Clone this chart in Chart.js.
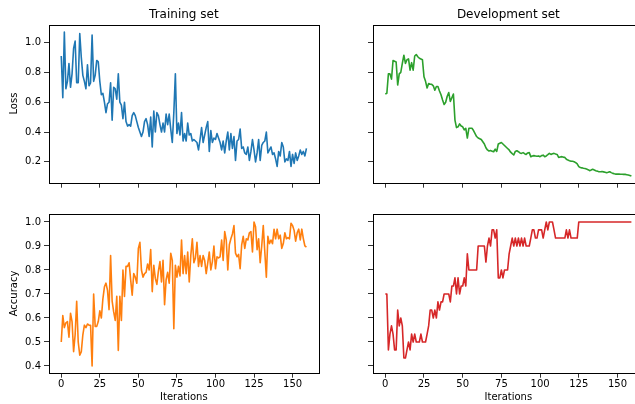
<!DOCTYPE html>
<html>
<head>
<meta charset="utf-8">
<script src="https://cdn.jsdelivr.net/npm/chart.js@4"></script>
<style>
  html, body { margin: 0; padding: 0; background: #fff; overflow: hidden; }
  body { width: 635px; height: 404px; position: relative; }
  .panel { position: absolute; }
</style>
</head>
<body>
<div class="panel" style="left:0;top:0"><canvas id="train-loss" width="325" height="190"></canvas></div>
<div class="panel" style="left:324px;top:0"><canvas id="dev-loss" width="326" height="190"></canvas></div>
<div class="panel" style="left:0;top:190px"><canvas id="train-acc" width="325" height="214"></canvas></div>
<div class="panel" style="left:324px;top:190px"><canvas id="dev-acc" width="326" height="214"></canvas></div>
<script>
// values, one per iteration
const trainLoss = [
  0.91,0.63,1.07,0.69,0.74,0.86,0.70,0.79,0.96,1.01,
  0.73,0.73,1.06,0.90,0.78,0.74,0.69,0.85,0.71,0.73,
  1.05,0.74,0.78,0.88,0.87,0.74,0.65,0.66,0.60,0.53,
  0.59,0.60,0.73,0.48,0.70,0.69,0.62,0.79,0.60,0.58,
  0.49,0.60,0.47,0.44,0.45,0.44,0.51,0.53,0.51,0.47,
  0.43,0.40,0.37,0.40,0.47,0.49,0.45,0.37,0.50,0.30,
  0.54,0.40,0.53,0.51,0.45,0.40,0.46,0.40,0.52,0.45,
  0.52,0.42,0.33,0.53,0.79,0.39,0.46,0.38,0.53,0.34,
  0.39,0.34,0.46,0.38,0.39,0.34,0.35,0.34,0.33,0.28,
  0.35,0.43,0.33,0.38,0.43,0.47,0.27,0.41,0.33,0.36,
  0.35,0.39,0.36,0.33,0.28,0.34,0.26,0.34,0.40,0.28,
  0.39,0.29,0.37,0.21,0.34,0.35,0.42,0.29,0.30,0.26,
  0.25,0.30,0.21,0.27,0.35,0.28,0.20,0.26,0.35,0.21,
  0.31,0.33,0.34,0.40,0.26,0.28,0.30,0.25,0.26,0.22,
  0.17,0.27,0.24,0.33,0.30,0.20,0.22,0.21,0.27,0.17,
  0.25,0.19,0.26,0.21,0.24,0.28,0.25,0.27,0.24,0.29
];
const devLoss = [
  0.655,0.66,0.79,0.79,0.755,0.88,0.875,0.87,0.715,0.79,
  0.80,0.86,0.915,0.86,0.885,0.89,0.815,0.865,0.815,0.91,
  0.92,0.905,0.895,0.89,0.885,0.77,0.74,0.695,0.725,0.72,
  0.72,0.71,0.68,0.705,0.705,0.675,0.65,0.615,0.585,0.60,
  0.64,0.665,0.605,0.63,0.655,0.48,0.43,0.435,0.455,0.44,
  0.435,0.415,0.425,0.36,0.425,0.425,0.425,0.41,0.39,0.37,
  0.36,0.355,0.35,0.335,0.32,0.295,0.28,0.273,0.276,0.272,
  0.268,0.285,0.27,0.32,0.325,0.33,0.32,0.31,0.30,0.29,
  0.28,0.265,0.255,0.246,0.27,0.275,0.268,0.26,0.257,0.262,
  0.255,0.25,0.26,0.262,0.235,0.24,0.242,0.24,0.238,0.24,
  0.235,0.242,0.245,0.235,0.24,0.248,0.257,0.25,0.255,0.257,
  0.253,0.25,0.23,0.233,0.235,0.232,0.23,0.218,0.212,0.208,
  0.205,0.204,0.201,0.195,0.186,0.168,0.162,0.16,0.157,0.155,
  0.152,0.148,0.141,0.145,0.15,0.146,0.141,0.138,0.134,0.134,
  0.135,0.133,0.13,0.127,0.13,0.134,0.128,0.123,0.12,0.118,
  0.118,0.118,0.117,0.117,0.116,0.116,0.114,0.112,0.109,0.105
];
const trainAcc = [
  0.50,0.61,0.56,0.58,0.585,0.52,0.62,0.585,0.46,0.53,
  0.67,0.50,0.445,0.46,0.53,0.57,0.56,0.575,0.57,0.57,
  0.40,0.70,0.565,0.565,0.585,0.63,0.60,0.68,0.73,0.745,
  0.715,0.635,0.86,0.67,0.625,0.59,0.69,0.465,0.69,0.59,
  0.80,0.69,0.815,0.815,0.83,0.76,0.695,0.785,0.77,0.745,
  0.89,0.915,0.80,0.77,0.785,0.79,0.825,0.80,0.885,0.71,
  0.82,0.765,0.74,0.795,0.835,0.75,0.84,0.655,0.76,0.79,
  0.745,0.87,0.84,0.555,0.82,0.77,0.815,0.775,0.925,0.785,
  0.86,0.785,0.875,0.75,0.86,0.93,0.83,0.85,0.915,0.815,
  0.86,0.815,0.86,0.84,0.785,0.83,0.875,0.80,0.835,0.90,
  0.805,0.855,0.85,0.855,0.925,0.84,0.96,0.925,0.80,0.905,
  0.93,0.95,0.985,0.87,0.855,0.865,0.805,0.905,0.94,0.89,
  0.93,0.925,0.955,0.96,0.875,1.00,0.98,0.885,0.93,0.83,
  0.90,0.985,0.875,0.77,0.94,0.91,0.925,0.91,0.97,0.93,
  0.97,0.93,0.945,0.89,0.91,0.955,0.93,0.935,0.93,0.995,
  0.985,0.965,0.92,0.955,0.97,0.925,0.97,0.93,0.90,0.895
];
const devAcc = [
  0.700,0.700,0.467,0.533,0.567,0.533,0.467,0.467,0.633,0.567,
  0.600,0.567,0.433,0.433,0.467,0.500,0.467,0.533,0.500,0.533,
  0.500,0.500,0.500,0.533,0.500,0.500,0.500,0.533,0.567,0.633,
  0.633,0.600,0.633,0.600,0.667,0.633,0.667,0.667,0.700,0.700,
  0.700,0.700,0.667,0.733,0.733,0.767,0.700,0.767,0.700,0.733,
  0.733,0.767,0.733,0.867,0.800,0.800,0.800,0.800,0.800,0.800,
  0.900,0.900,0.900,0.900,0.900,0.833,0.900,0.933,0.900,0.967,
  0.967,0.933,0.967,0.767,0.767,0.800,0.767,0.800,0.800,0.800,
  0.867,0.900,0.933,0.900,0.933,0.900,0.933,0.900,0.933,0.900,
  0.933,0.900,0.900,0.900,0.933,0.967,0.967,0.933,0.933,0.967,
  0.967,0.967,0.933,0.967,1.000,0.967,1.000,1.000,1.000,0.967,
  0.933,0.933,0.933,0.933,0.933,0.933,0.933,0.967,0.933,0.967,
  0.933,0.933,0.933,0.933,0.933,1.000,1.000,1.000,1.000,1.000,
  1.000,1.000,1.000,1.000,1.000,1.000,1.000,1.000,1.000,1.000,
  1.000,1.000,1.000,1.000,1.000,1.000,1.000,1.000,1.000,1.000,
  1.000,1.000,1.000,1.000,1.000,1.000,1.000,1.000,1.000,1.000
];
const iterations = trainLoss.map((v, i) => i);

// tick labels
const xTicks = [0, 25, 50, 75, 100, 125, 150];
const lossTicks = [0.2, 0.4, 0.6, 0.8, 1.0];
const accTicks = [0.4, 0.5, 0.6, 0.7, 0.8, 0.9, 1.0];

Chart.defaults.font.family = "'DejaVu Sans', sans-serif";
Chart.defaults.font.size = 10;
Chart.defaults.color = '#000';

// matplotlib style box around the plot area
const frame = {
  id: 'frame',
  afterDatasetsDraw(chart) {
    const { ctx, chartArea: a } = chart;
    const l = Math.round(a.left) + 0.5, t = Math.round(a.top) + 0.5;
    const r = Math.round(a.right) + 0.5, b = Math.round(a.bottom) + 0.5;
    ctx.save();
    ctx.strokeStyle = '#000';
    ctx.lineWidth = 1;
    ctx.strokeRect(l, t, r - l, b - t);
    ctx.restore();
  }
};

function tickGrid() {
  return { drawOnChartArea: false, drawTicks: true, tickLength: 5, color: '#000', lineWidth: 0.8 };
}

function panel(id, cfg) {
  return new Chart(document.getElementById(id), {
    type: 'line',
    data: {
      datasets: [{
        data: cfg.values.map((v, i) => ({ x: iterations[i], y: v })),
        borderColor: cfg.color,
        borderWidth: 1.6,
        borderJoinStyle: 'round',
        pointRadius: 0,
        tension: 0,
        fill: false
      }]
    },
    options: {
      responsive: false,
      animation: false,
      events: [],
      layout: { padding: { top: cfg.padTop, right: 6.3, left: 0, bottom: 0 } },
      plugins: {
        legend: { display: false },
        tooltip: { enabled: false },
        title: {
          display: !!cfg.title,
          text: cfg.title,
          fullSize: false,
          color: '#000',
          font: { size: 12, weight: 'normal' },
          padding: { top: 7.5, bottom: 2.6 }
        }
      },
      scales: {
        x: {
          type: 'linear',
          min: -7.95,
          max: 166.95,
          afterBuildTicks: s => { s.ticks = xTicks.map(v => ({ value: v })); },
          afterFit: s => { s.height = cfg.xHeight; s.paddingLeft = 0; s.paddingRight = 0; },
          grid: tickGrid(),
          border: { display: false },
          ticks: { display: cfg.xLabels, padding: 1, maxRotation: 0, callback: v => String(v) },
          title: { display: cfg.xLabels, text: 'Iterations', padding: { top: 0, bottom: 0.5 } }
        },
        y: {
          type: 'linear',
          min: cfg.yMin,
          max: cfg.yMax,
          afterBuildTicks: s => { s.ticks = cfg.yTicks.map(v => ({ value: v })); },
          afterFit: s => { s.width = 49; s.paddingTop = 0; s.paddingBottom = 0; },
          grid: tickGrid(),
          border: { display: false },
          ticks: { display: cfg.yLabels, padding: 3, callback: v => v.toFixed(1) },
          title: { display: !!cfg.yTitle, text: cfg.yTitle, padding: { top: 8, bottom: 0 } }
        }
      }
    },
    plugins: [frame]
  });
}

const lossRange = { yMin: 0.0604, yMax: 1.121, yTicks: lossTicks };
const accRange = { yMin: 0.372, yMax: 1.032, yTicks: accTicks };

panel('train-loss', { ...lossRange, values: trainLoss, color: '#1f77b4', title: 'Training set',
  yTitle: 'Loss', yLabels: true, xLabels: false, padTop: 0, xHeight: 7.3 });
panel('dev-loss', { ...lossRange, values: devLoss, color: '#2ca02c', title: 'Development set',
  yTitle: '', yLabels: false, xLabels: false, padTop: 0, xHeight: 7.3 });
panel('train-acc', { ...accRange, values: trainAcc, color: '#ff7f0e', title: '',
  yTitle: 'Accuracy', yLabels: true, xLabels: true, padTop: 24.3, xHeight: 31.3 });
panel('dev-acc', { ...accRange, values: devAcc, color: '#d62728', title: '',
  yTitle: '', yLabels: false, xLabels: true, padTop: 24.3, xHeight: 31.3 });
</script>
</body>
</html>
